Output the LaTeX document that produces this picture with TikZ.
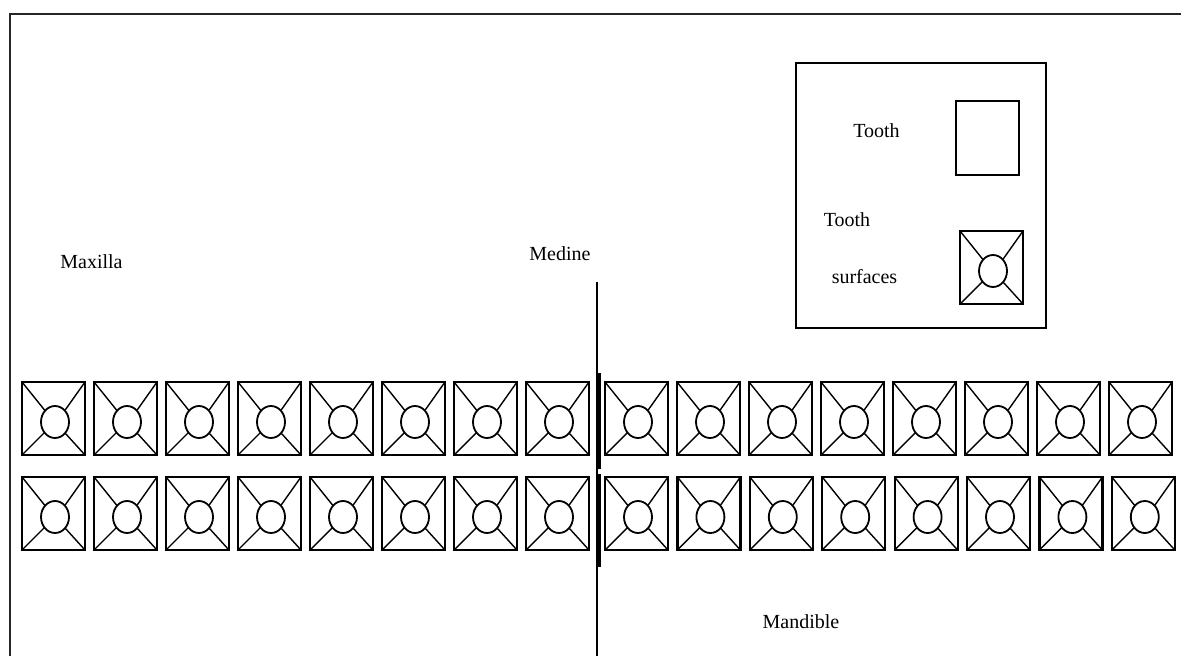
\documentclass[tikz,border=0pt]{standalone}
\usepackage{fontspec}
\setmainfont{Liberation Serif}
\begin{document}
\begin{tikzpicture}[x=1pt,y=-1pt,
  frameline/.style={line width=2.4pt,black!85},
  boxline/.style={line width=2.2pt},
  spoke/.style={line width=1.4pt},
  label/.style={font=\fontsize{20}{24}\selectfont,anchor=base,inner sep=0pt},
  toothsym/.pic={
    % outer tooth outline with the occlusal circle and four surface spokes
    \draw[boxline] (0,0) rectangle (63,73);
    \draw[spoke,line width=1.8pt] (33,40) ellipse [x radius=14, y radius=16];
    \draw[spoke] (0,0) -- (23.1,28.7);
    \draw[spoke] (63,0) -- (43.2,28.0);
    \draw[spoke] (0,73) -- (22.5,50.5);
    \draw[spoke] (63,73) -- (43.5,51.5);
  }]
\useasboundingbox (0,0) rectangle (1181,656);

% open outer frame
\draw[frameline] (10,656) -- (10,14) -- (1181,14);

% labels
\node[label] (maxilla) at (91.5,268) {Maxilla};
\node[label] (medine) at (560,260) {Medine};
\node[label] (mandible) at (801,628) {Mandible};

% median line
\coordinate (midtop) at (597,282);
\coordinate (midbot) at (597,656);
\draw[line width=1.6pt] (midtop) -- (midbot);
\draw[line width=3.2pt] (599,373) -- (599,469);
\draw[line width=3.2pt] (599,474) -- (599,567);

% upper and lower rows of teeth
\foreach \i in {0,...,7}{
  \pic at ({22+72*\i},382) {toothsym};
  \pic at ({605+72*\i},382) {toothsym};
  \pic at ({22+72*\i},477) {toothsym};
  \pic at ({605+72.4*\i},477) {toothsym};
}

% legend
\draw[line width=1.9pt] (796,63) rectangle (1046,328);
\node[label] (ltooth) at (876.5,137) {Tooth};
\draw[line width=1.9pt] (956,101) rectangle (1019,175);
\node[label] (ltooth2) at (847,226) {Tooth};
\node[label] (lsurf) at (864.5,283) {surfaces};
\pic at (960,231) {toothsym};
\end{tikzpicture}
\end{document}
